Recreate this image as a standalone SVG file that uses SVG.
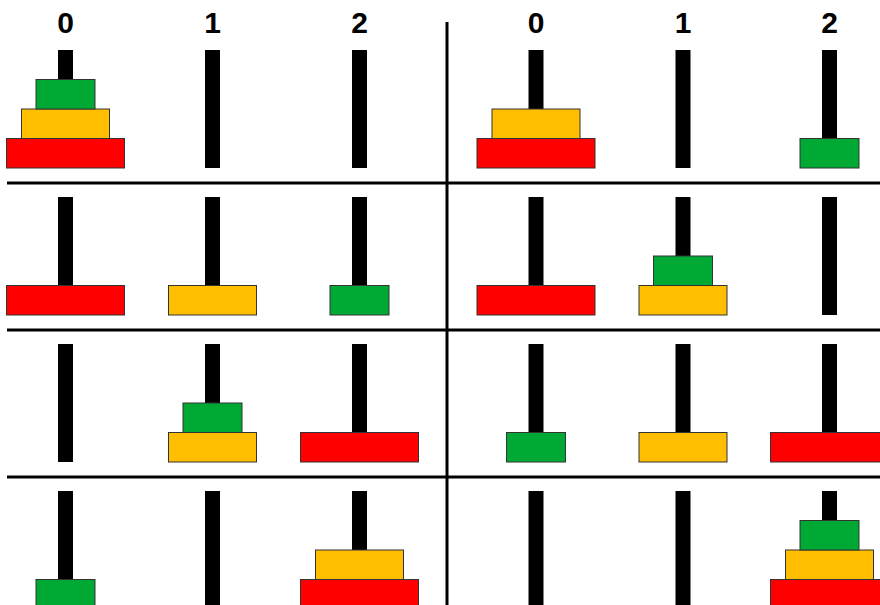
<svg xmlns="http://www.w3.org/2000/svg" xmlns:xlink="http://www.w3.org/1999/xlink" width="880" height="605" viewBox="0 0 880 605">
<style>
.lbl{font-family:"Liberation Sans",Arial,sans-serif;font-weight:bold;font-size:30px;fill:#000;text-anchor:middle}
.peg{fill:#000}
.g{fill:#00A933;stroke:#333;stroke-width:1}
.y{fill:#FFBF00;stroke:#333;stroke-width:1}
.r{fill:#FF0000;stroke:#333;stroke-width:1}
.grid{stroke:#000;stroke-width:3;fill:none}
</style>
<defs>
<rect id="peg" class="peg" x="-7.5" y="0" width="15" height="118"/>
<rect id="G" class="g" x="-29.5" y="0" width="59" height="29.5"/>
<rect id="Y" class="y" x="-44" y="0" width="88" height="29.5"/>
<rect id="R" class="r" x="-59" y="0" width="118" height="29.5"/>
</defs>
<g id="labels">
<text class="lbl" x="65.5" y="33">0</text>
<text class="lbl" x="212.5" y="33">1</text>
<text class="lbl" x="359.5" y="33">2</text>
<text class="lbl" x="536" y="33">0</text>
<text class="lbl" x="683" y="33">1</text>
<text class="lbl" x="829.5" y="33">2</text>
</g>
<g id="connectors">
<line class="grid" x1="7" y1="183" x2="880" y2="183"/>
<line class="grid" x1="7" y1="330" x2="880" y2="330"/>
<line class="grid" x1="7" y1="477" x2="880" y2="477"/>
<line class="grid" x1="447" y1="22" x2="447" y2="605"/>
</g>
<!-- row 0 -->
<g id="state0" transform="translate(0,50)">
<use href="#peg" x="65.5"/><use href="#peg" x="212.5"/><use href="#peg" x="359.5"/>
<use href="#R" x="65.5" y="88.5"/><use href="#Y" x="65.5" y="59"/><use href="#G" x="65.5" y="29.5"/>
</g>
<g id="state1" transform="translate(0,50)">
<use href="#peg" x="536"/><use href="#peg" x="683"/><use href="#peg" x="829.5"/>
<use href="#R" x="536" y="88.5"/><use href="#Y" x="536" y="59"/>
<use href="#G" x="829.5" y="88.5"/>
</g>
<!-- row 1 -->
<g id="state2" transform="translate(0,197)">
<use href="#peg" x="65.5"/><use href="#peg" x="212.5"/><use href="#peg" x="359.5"/>
<use href="#R" x="65.5" y="88.5"/><use href="#Y" x="212.5" y="88.5"/><use href="#G" x="359.5" y="88.5"/>
</g>
<g id="state3" transform="translate(0,197)">
<use href="#peg" x="536"/><use href="#peg" x="683"/><use href="#peg" x="829.5"/>
<use href="#R" x="536" y="88.5"/><use href="#Y" x="683" y="88.5"/><use href="#G" x="683" y="59"/>
</g>
<!-- row 2 -->
<g id="state4" transform="translate(0,344)">
<use href="#peg" x="65.5"/><use href="#peg" x="212.5"/><use href="#peg" x="359.5"/>
<use href="#Y" x="212.5" y="88.5"/><use href="#G" x="212.5" y="59"/><use href="#R" x="359.5" y="88.5"/>
</g>
<g id="state5" transform="translate(0,344)">
<use href="#peg" x="536"/><use href="#peg" x="683"/><use href="#peg" x="829.5"/>
<use href="#G" x="536" y="88.5"/><use href="#Y" x="683" y="88.5"/><use href="#R" x="829.5" y="88.5"/>
</g>
<!-- row 3 -->
<g id="state6" transform="translate(0,491)">
<use href="#peg" x="65.5"/><use href="#peg" x="212.5"/><use href="#peg" x="359.5"/>
<use href="#G" x="65.5" y="88.5"/><use href="#R" x="359.5" y="88.5"/><use href="#Y" x="359.5" y="59"/>
</g>
<g id="state7" transform="translate(0,491)">
<use href="#peg" x="536"/><use href="#peg" x="683"/><use href="#peg" x="829.5"/>
<use href="#R" x="829.5" y="88.5"/><use href="#Y" x="829.5" y="59"/><use href="#G" x="829.5" y="29.5"/>
</g>
</svg>
